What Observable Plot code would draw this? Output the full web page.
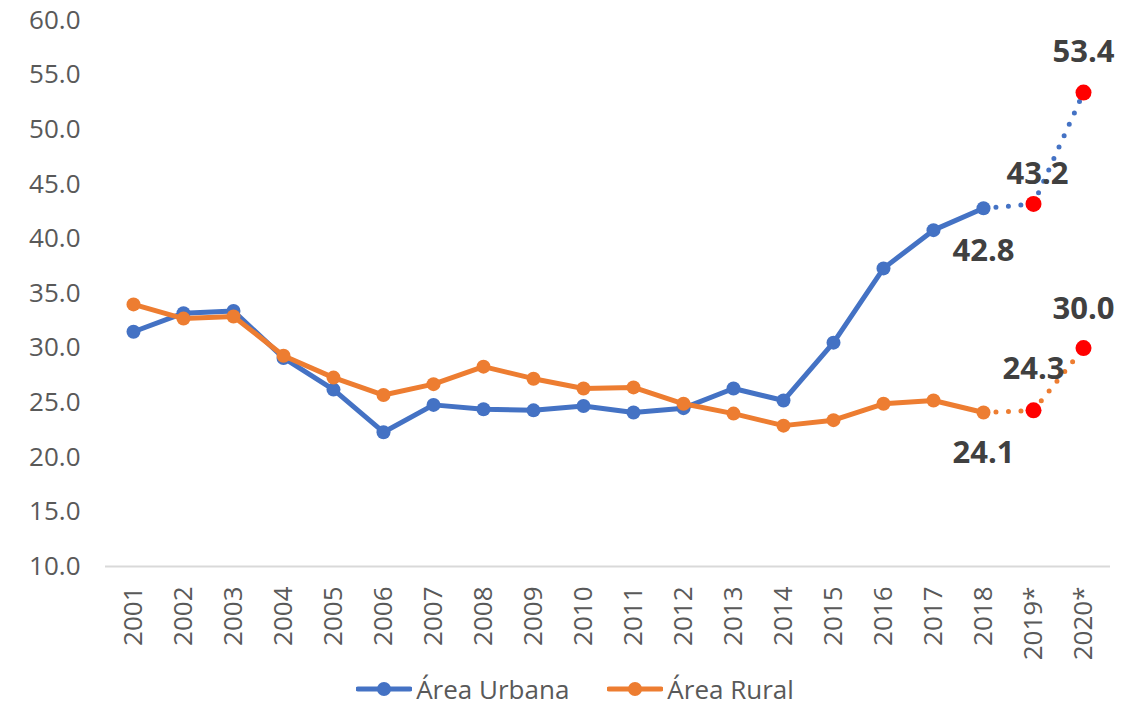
<!DOCTYPE html>
<html>
<head>
<meta charset="utf-8">
<script src="https://cdn.jsdelivr.net/npm/d3@7"></script>
<script src="https://cdn.jsdelivr.net/npm/@observablehq/plot@0.6"></script>
<style>
  html, body { margin: 0; padding: 0; background: #fff; }
  #chart { position: relative; width: 1140px; height: 707px; font-family: "Open Sans", sans-serif; }
  #legend { position: absolute; left: 0; width: 1140px; top: 671px; display: flex; justify-content: center; align-items: center; gap: 38px; font-size: 26px; color: #595959; padding-left: 10px; box-sizing: border-box; }
  .item { display: flex; align-items: center; gap: 4px; }
</style>
</head>
<body>
<div id="chart"></div>
<script>
const years = ["2001","2002","2003","2004","2005","2006","2007","2008","2009","2010","2011","2012","2013","2014","2015","2016","2017","2018","2019*","2020*"];
const urbana = [31.5, 33.2, 33.4, 29.1, 26.2, 22.3, 24.8, 24.4, 24.3, 24.7, 24.1, 24.5, 26.3, 25.2, 30.5, 37.3, 40.8, 42.8, 43.2, 53.4];
const rural  = [34.0, 32.7, 32.9, 29.3, 27.3, 25.7, 26.7, 28.3, 27.2, 26.3, 26.4, 24.9, 24.0, 22.9, 23.4, 24.9, 25.2, 24.1, 24.3, 30.0];
const yTicks = [10, 15, 20, 25, 30, 35, 40, 45, 50, 55, 60];
const seriesNames = ["Área Urbana", "Área Rural"];
const colors = ["#4472C4", "#ED7D31"];
const projColor = "#FF0000";
const lastActual = 17; // index of 2018

const rows = (vals) => years.map((year, i) => ({year, value: vals[i], i}));
const U = rows(urbana), R = rows(rural);
const solid = d => d.filter(r => r.i <= lastActual);
const dotted = d => d.filter(r => r.i >= lastActual);
const proj = d => d.filter(r => r.i > lastActual);

function labels(d, sel, dy, dx = 0) {
  return Plot.text(d.filter(r => sel.includes(r.year)), {
    x: "year", y: "value", text: r => r.value.toFixed(1), dy, dx,
    fontSize: 31, fontWeight: "bold", fill: "#404040", fontFamily: "Open Sans"
  });
}

const marks = [Plot.ruleY([10], {stroke: "#d9d9d9", strokeWidth: 2})];
[U, R].forEach((d, k) => {
  marks.push(
    Plot.line(solid(d), {x: "year", y: "value", stroke: colors[k], strokeWidth: 5, strokeLinejoin: "round"}),
    Plot.line(dotted(d), {x: "year", y: "value", stroke: colors[k], strokeWidth: 5, strokeLinecap: "round", strokeDasharray: "0,12.5"}),
    Plot.dot(solid(d), {x: "year", y: "value", r: 7, fill: colors[k]}),
    Plot.dot(proj(d), {x: "year", y: "value", r: 8, fill: projColor})
  );
});
marks.push(
  labels(U, ["2020*"], -40),
  labels(U, ["2019*"], -30, 4),
  labels(U, ["2018"], 43),
  labels(R, ["2020*"], -39),
  labels(R, ["2019*"], -41),
  labels(R, ["2018"], 41),
  Plot.axisY({ticks: yTicks, tickFormat: d => d.toFixed(1), tickSize: 0, tickPadding: 25, fontSize: 26, fill: "#595959", label: null, fontFamily: "Open Sans"}),
  Plot.axisX({tickRotate: -90, tickSize: 0, tickPadding: 20, fontSize: 26, fill: "#595959", label: null, fontFamily: "Open Sans"})
);

const plot = Plot.plot({
  width: 1140,
  height: 665,
  marginTop: 20,
  marginBottom: 99,
  marginLeft: 105,
  marginRight: 30,
  style: {fontFamily: "Open Sans", background: "white", overflow: "visible"},
  x: {type: "point", domain: years, padding: 0.5},
  y: {domain: [10, 60]},
  marks
});
const chart = document.getElementById("chart");
chart.appendChild(plot);

const legend = document.createElement("div");
legend.id = "legend";
seriesNames.forEach((name, k) => {
  const item = document.createElement("div");
  item.className = "item";
  item.innerHTML = `<svg width="56" height="16"><line x1="2" y1="8" x2="54" y2="8" stroke="${colors[k]}" stroke-width="5" stroke-linecap="round"/><circle cx="28" cy="8" r="7" fill="${colors[k]}"/></svg><span>${name}</span>`;
  legend.appendChild(item);
});
chart.appendChild(legend);
</script>
</body>
</html>
